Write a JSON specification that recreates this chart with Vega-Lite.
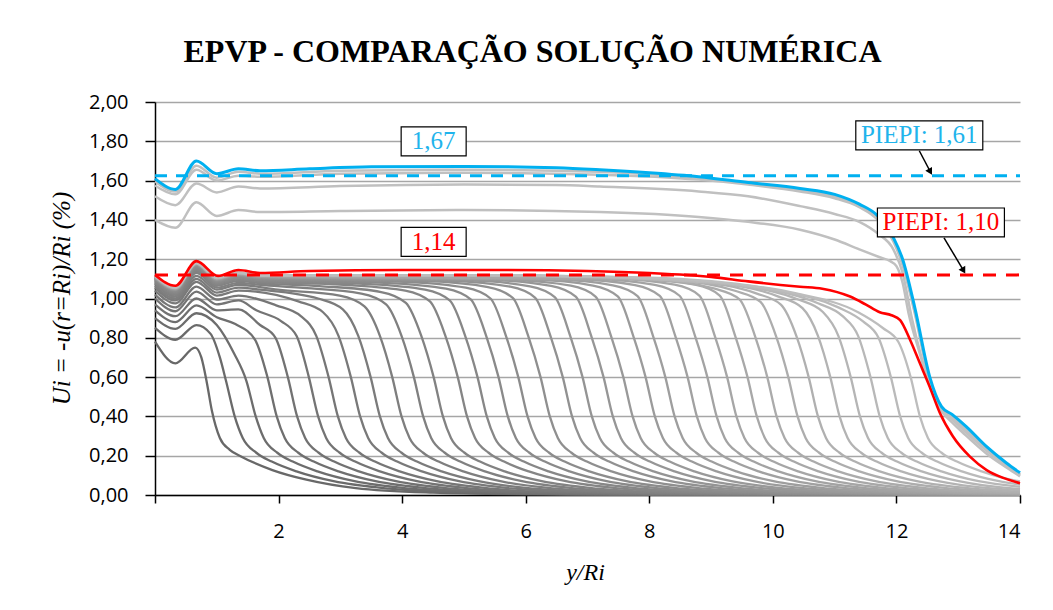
{
"$schema":"https://vega.github.io/schema/vega-lite/v6.json",
"width":865,"height":393,
"autosize":{"type":"none"},
"padding":{"left":155,"top":102,"right":33,"bottom":115},
"background":"white",
"title":{"text":"EPVP - COMPARAÇÃO SOLUÇÃO NUMÉRICA","font":"Liberation Serif","fontSize":32,"fontWeight":"bold","color":"#000","anchor":"middle","baseline":"alphabetic","offset":-2,"dx":-55},
"config":{"view":{"stroke":null}},
"datasets":{
"lower":[
{"k":1,"x":0,"y":0.78},{"k":1,"x":0.33,"y":0.67},{"k":1,"x":0.65,"y":0.75},{"k":1,"x":0.75,"y":0.7},{"k":1,"x":0.84,"y":0.57},{"k":1,"x":0.92,"y":0.43},{"k":1,"x":1.05,"y":0.29},{"k":1,"x":1.21,"y":0.23},{"k":1,"x":1.4,"y":0.195},{"k":1,"x":1.9,"y":0.127},{"k":1,"x":2.45,"y":0.078},{"k":1,"x":3.25,"y":0.035},{"k":1,"x":4.5,"y":0.012},{"k":1,"x":6,"y":0.004},{"k":1,"x":8,"y":0.001},
{"k":2,"x":0,"y":0.85},{"k":2,"x":0.33,"y":0.79},{"k":2,"x":0.67,"y":0.865},{"k":2,"x":0.9,"y":0.82},{"k":2,"x":1.05,"y":0.7},{"k":2,"x":1.15,"y":0.58},{"k":2,"x":1.29,"y":0.4},{"k":2,"x":1.42,"y":0.29},{"k":2,"x":1.64,"y":0.215},{"k":2,"x":1.89,"y":0.17},{"k":2,"x":2.29,"y":0.12},{"k":2,"x":2.89,"y":0.07},{"k":2,"x":3.79,"y":0.032},{"k":2,"x":4.79,"y":0.013},{"k":2,"x":6.29,"y":0.004},{"k":2,"x":8.3,"y":0.001},
{"k":3,"x":0,"y":0.9},{"k":3,"x":0.33,"y":0.845},{"k":3,"x":0.67,"y":0.925},{"k":3,"x":1.0,"y":0.865},{"k":3,"x":1.28,"y":0.72},{"k":3,"x":1.48,"y":0.58},{"k":3,"x":1.63,"y":0.4},{"k":3,"x":1.76,"y":0.29},{"k":3,"x":1.98,"y":0.215},{"k":3,"x":2.23,"y":0.17},{"k":3,"x":2.63,"y":0.12},{"k":3,"x":3.23,"y":0.07},{"k":3,"x":4.13,"y":0.032},{"k":3,"x":5.13,"y":0.013},{"k":3,"x":6.63,"y":0.004},{"k":3,"x":8.6,"y":0.001},
{"k":4,"x":0,"y":0.94},{"k":4,"x":0.33,"y":0.88},{"k":4,"x":0.67,"y":0.965},{"k":4,"x":1.0,"y":0.905},{"k":4,"x":1.3,"y":0.87},{"k":4,"x":1.62,"y":0.79},{"k":4,"x":1.82,"y":0.6},{"k":4,"x":1.97,"y":0.4},{"k":4,"x":2.1,"y":0.29},{"k":4,"x":2.32,"y":0.215},{"k":4,"x":2.57,"y":0.17},{"k":4,"x":2.97,"y":0.12},{"k":4,"x":3.57,"y":0.07},{"k":4,"x":4.47,"y":0.032},{"k":4,"x":5.47,"y":0.013},{"k":4,"x":6.97,"y":0.004},{"k":4,"x":9,"y":0.001},
{"k":5,"x":0,"y":0.97},{"k":5,"x":0.33,"y":0.91},{"k":5,"x":0.67,"y":1.0},{"k":5,"x":1.0,"y":0.94},{"k":5,"x":1.35,"y":0.945},{"k":5,"x":1.7,"y":0.865},{"k":5,"x":1.95,"y":0.8},{"k":5,"x":2.15,"y":0.6},{"k":5,"x":2.3,"y":0.4},{"k":5,"x":2.43,"y":0.29},{"k":5,"x":2.65,"y":0.215},{"k":5,"x":2.9,"y":0.17},{"k":5,"x":3.3,"y":0.12},{"k":5,"x":3.9,"y":0.07},{"k":5,"x":4.8,"y":0.032},{"k":5,"x":5.8,"y":0.013},{"k":5,"x":7.3,"y":0.004},{"k":5,"x":9.3,"y":0.001},
{"k":6,"x":0,"y":1.0},{"k":6,"x":0.33,"y":0.935},{"k":6,"x":0.67,"y":1.035},{"k":6,"x":1.0,"y":0.97},{"k":6,"x":1.35,"y":0.99},{"k":6,"x":1.64,"y":0.94},{"k":6,"x":2.04,"y":0.885},{"k":6,"x":2.29,"y":0.81},{"k":6,"x":2.49,"y":0.6},{"k":6,"x":2.64,"y":0.4},{"k":6,"x":2.77,"y":0.29},{"k":6,"x":2.99,"y":0.215},{"k":6,"x":3.24,"y":0.17},{"k":6,"x":3.64,"y":0.12},{"k":6,"x":4.24,"y":0.07},{"k":6,"x":5.14,"y":0.032},{"k":6,"x":6.14,"y":0.013},{"k":6,"x":7.64,"y":0.004},{"k":6,"x":9.64,"y":0.001},
{"k":7,"x":0,"y":1.02},{"k":7,"x":0.33,"y":0.955},{"k":7,"x":0.67,"y":1.06},{"k":7,"x":1.0,"y":0.995},{"k":7,"x":1.35,"y":1.015},{"k":7,"x":1.96,"y":0.965},{"k":7,"x":2.36,"y":0.91},{"k":7,"x":2.61,"y":0.81},{"k":7,"x":2.81,"y":0.6},{"k":7,"x":2.96,"y":0.4},{"k":7,"x":3.09,"y":0.29},{"k":7,"x":3.31,"y":0.215},{"k":7,"x":3.56,"y":0.17},{"k":7,"x":3.96,"y":0.12},{"k":7,"x":4.56,"y":0.07},{"k":7,"x":5.46,"y":0.032},{"k":7,"x":6.46,"y":0.013},{"k":7,"x":7.96,"y":0.004},{"k":7,"x":9.96,"y":0.001},
{"k":8,"x":0,"y":1.04},{"k":8,"x":0.33,"y":0.975},{"k":8,"x":0.67,"y":1.085},{"k":8,"x":1.0,"y":1.015},{"k":8,"x":1.35,"y":1.04},{"k":8,"x":2.32,"y":0.985},{"k":8,"x":2.72,"y":0.93},{"k":8,"x":2.97,"y":0.81},{"k":8,"x":3.17,"y":0.6},{"k":8,"x":3.32,"y":0.4},{"k":8,"x":3.45,"y":0.29},{"k":8,"x":3.67,"y":0.215},{"k":8,"x":3.92,"y":0.17},{"k":8,"x":4.32,"y":0.12},{"k":8,"x":4.92,"y":0.07},{"k":8,"x":5.82,"y":0.032},{"k":8,"x":6.82,"y":0.013},{"k":8,"x":8.32,"y":0.004},{"k":8,"x":10.3,"y":0.001},
{"k":9,"x":0,"y":1.055},{"k":9,"x":0.33,"y":0.99},{"k":9,"x":0.67,"y":1.1},{"k":9,"x":1.0,"y":1.03},{"k":9,"x":1.35,"y":1.055},{"k":9,"x":1.7,"y":1.045},{"k":9,"x":2.64,"y":1.0},{"k":9,"x":3.04,"y":0.945},{"k":9,"x":3.29,"y":0.81},{"k":9,"x":3.49,"y":0.6},{"k":9,"x":3.64,"y":0.4},{"k":9,"x":3.77,"y":0.29},{"k":9,"x":3.99,"y":0.215},{"k":9,"x":4.24,"y":0.17},{"k":9,"x":4.64,"y":0.12},{"k":9,"x":5.24,"y":0.07},{"k":9,"x":6.14,"y":0.032},{"k":9,"x":7.14,"y":0.013},{"k":9,"x":8.64,"y":0.004},{"k":9,"x":10.64,"y":0.001},
{"k":10,"x":0,"y":1.065},{"k":10,"x":0.33,"y":1.0},{"k":10,"x":0.67,"y":1.115},{"k":10,"x":1.0,"y":1.045},{"k":10,"x":1.35,"y":1.07},{"k":10,"x":1.99,"y":1.045},{"k":10,"x":2.99,"y":1.015},{"k":10,"x":3.39,"y":0.96},{"k":10,"x":3.64,"y":0.81},{"k":10,"x":3.84,"y":0.6},{"k":10,"x":3.99,"y":0.4},{"k":10,"x":4.12,"y":0.29},{"k":10,"x":4.34,"y":0.215},{"k":10,"x":4.59,"y":0.17},{"k":10,"x":4.99,"y":0.12},{"k":10,"x":5.59,"y":0.07},{"k":10,"x":6.49,"y":0.032},{"k":10,"x":7.49,"y":0.013},{"k":10,"x":8.99,"y":0.004},{"k":10,"x":10.99,"y":0.001},
{"k":11,"x":0,"y":1.075},{"k":11,"x":0.33,"y":1.01},{"k":11,"x":0.67,"y":1.13},{"k":11,"x":1.0,"y":1.055},{"k":11,"x":1.35,"y":1.08},{"k":11,"x":1.7,"y":1.07},{"k":11,"x":2.34,"y":1.055},{"k":11,"x":3.34,"y":1.025},{"k":11,"x":3.74,"y":0.97},{"k":11,"x":3.99,"y":0.81},{"k":11,"x":4.19,"y":0.6},{"k":11,"x":4.34,"y":0.4},{"k":11,"x":4.47,"y":0.29},{"k":11,"x":4.69,"y":0.215},{"k":11,"x":4.94,"y":0.17},{"k":11,"x":5.34,"y":0.12},{"k":11,"x":5.94,"y":0.07},{"k":11,"x":6.84,"y":0.032},{"k":11,"x":7.84,"y":0.013},{"k":11,"x":9.34,"y":0.004},{"k":11,"x":11.34,"y":0.001},
{"k":12,"x":0,"y":1.082},{"k":12,"x":0.33,"y":1.018},{"k":12,"x":0.67,"y":1.14},{"k":12,"x":1.0,"y":1.065},{"k":12,"x":1.35,"y":1.09},{"k":12,"x":1.7,"y":1.078},{"k":12,"x":2.66,"y":1.063},{"k":12,"x":3.66,"y":1.033},{"k":12,"x":4.06,"y":0.978},{"k":12,"x":4.31,"y":0.81},{"k":12,"x":4.51,"y":0.6},{"k":12,"x":4.66,"y":0.4},{"k":12,"x":4.79,"y":0.29},{"k":12,"x":5.01,"y":0.215},{"k":12,"x":5.26,"y":0.17},{"k":12,"x":5.66,"y":0.12},{"k":12,"x":6.26,"y":0.07},{"k":12,"x":7.16,"y":0.032},{"k":12,"x":8.16,"y":0.013},{"k":12,"x":9.66,"y":0.004},{"k":12,"x":11.66,"y":0.001},
{"k":13,"x":0,"y":1.088},{"k":13,"x":0.33,"y":1.025},{"k":13,"x":0.67,"y":1.148},{"k":13,"x":1.0,"y":1.072},{"k":13,"x":1.35,"y":1.097},{"k":13,"x":1.7,"y":1.085},{"k":13,"x":3.05,"y":1.07},{"k":13,"x":4.05,"y":1.04},{"k":13,"x":4.45,"y":0.985},{"k":13,"x":4.7,"y":0.81},{"k":13,"x":4.9,"y":0.6},{"k":13,"x":5.05,"y":0.4},{"k":13,"x":5.18,"y":0.29},{"k":13,"x":5.4,"y":0.215},{"k":13,"x":5.65,"y":0.17},{"k":13,"x":6.05,"y":0.12},{"k":13,"x":6.65,"y":0.07},{"k":13,"x":7.55,"y":0.032},{"k":13,"x":8.55,"y":0.013},{"k":13,"x":10.05,"y":0.004},{"k":13,"x":12.05,"y":0.001},
{"k":14,"x":0,"y":1.093},{"k":14,"x":0.33,"y":1.03},{"k":14,"x":0.67,"y":1.155},{"k":14,"x":1.0,"y":1.077},{"k":14,"x":1.35,"y":1.102},{"k":14,"x":1.7,"y":1.09},{"k":14,"x":3.37,"y":1.075},{"k":14,"x":4.37,"y":1.045},{"k":14,"x":4.77,"y":0.99},{"k":14,"x":5.02,"y":0.81},{"k":14,"x":5.22,"y":0.6},{"k":14,"x":5.37,"y":0.4},{"k":14,"x":5.5,"y":0.29},{"k":14,"x":5.72,"y":0.215},{"k":14,"x":5.97,"y":0.17},{"k":14,"x":6.37,"y":0.12},{"k":14,"x":6.97,"y":0.07},{"k":14,"x":7.87,"y":0.032},{"k":14,"x":8.87,"y":0.013},{"k":14,"x":10.37,"y":0.004},{"k":14,"x":12.37,"y":0.001},
{"k":15,"x":0,"y":1.097},{"k":15,"x":0.33,"y":1.035},{"k":15,"x":0.67,"y":1.16},{"k":15,"x":1.0,"y":1.082},{"k":15,"x":1.35,"y":1.107},{"k":15,"x":1.7,"y":1.095},{"k":15,"x":3.71,"y":1.08},{"k":15,"x":4.71,"y":1.05},{"k":15,"x":5.11,"y":0.995},{"k":15,"x":5.36,"y":0.81},{"k":15,"x":5.56,"y":0.6},{"k":15,"x":5.71,"y":0.4},{"k":15,"x":5.84,"y":0.29},{"k":15,"x":6.06,"y":0.215},{"k":15,"x":6.31,"y":0.17},{"k":15,"x":6.71,"y":0.12},{"k":15,"x":7.31,"y":0.07},{"k":15,"x":8.21,"y":0.032},{"k":15,"x":9.21,"y":0.013},{"k":15,"x":10.71,"y":0.004},{"k":15,"x":12.71,"y":0.001},
{"k":16,"x":0,"y":1.1},{"k":16,"x":0.33,"y":1.04},{"k":16,"x":0.67,"y":1.165},{"k":16,"x":1.0,"y":1.087},{"k":16,"x":1.35,"y":1.112},{"k":16,"x":1.7,"y":1.1},{"k":16,"x":4.03,"y":1.085},{"k":16,"x":5.03,"y":1.055},{"k":16,"x":5.43,"y":1.0},{"k":16,"x":5.68,"y":0.81},{"k":16,"x":5.88,"y":0.6},{"k":16,"x":6.03,"y":0.4},{"k":16,"x":6.16,"y":0.29},{"k":16,"x":6.38,"y":0.215},{"k":16,"x":6.63,"y":0.17},{"k":16,"x":7.03,"y":0.12},{"k":16,"x":7.63,"y":0.07},{"k":16,"x":8.53,"y":0.032},{"k":16,"x":9.53,"y":0.013},{"k":16,"x":11.03,"y":0.004},{"k":16,"x":13.03,"y":0.001},
{"k":17,"x":0,"y":1.102},{"k":17,"x":0.33,"y":1.042},{"k":17,"x":0.67,"y":1.168},{"k":17,"x":1.0,"y":1.09},{"k":17,"x":1.35,"y":1.115},{"k":17,"x":1.7,"y":1.103},{"k":17,"x":4.39,"y":1.088},{"k":17,"x":5.39,"y":1.058},{"k":17,"x":5.79,"y":1.003},{"k":17,"x":6.04,"y":0.81},{"k":17,"x":6.24,"y":0.6},{"k":17,"x":6.39,"y":0.4},{"k":17,"x":6.52,"y":0.29},{"k":17,"x":6.74,"y":0.215},{"k":17,"x":6.99,"y":0.17},{"k":17,"x":7.39,"y":0.12},{"k":17,"x":7.99,"y":0.07},{"k":17,"x":8.89,"y":0.032},{"k":17,"x":9.89,"y":0.013},{"k":17,"x":11.39,"y":0.004},{"k":17,"x":13.39,"y":0.001},
{"k":18,"x":0,"y":1.104},{"k":18,"x":0.33,"y":1.044},{"k":18,"x":0.67,"y":1.17},{"k":18,"x":1.0,"y":1.092},{"k":18,"x":1.35,"y":1.117},{"k":18,"x":1.7,"y":1.105},{"k":18,"x":4.75,"y":1.09},{"k":18,"x":5.75,"y":1.06},{"k":18,"x":6.15,"y":1.005},{"k":18,"x":6.4,"y":0.81},{"k":18,"x":6.6,"y":0.6},{"k":18,"x":6.75,"y":0.4},{"k":18,"x":6.88,"y":0.29},{"k":18,"x":7.1,"y":0.215},{"k":18,"x":7.35,"y":0.17},{"k":18,"x":7.75,"y":0.12},{"k":18,"x":8.35,"y":0.07},{"k":18,"x":9.25,"y":0.032},{"k":18,"x":10.25,"y":0.013},{"k":18,"x":11.75,"y":0.004},{"k":18,"x":13.75,"y":0.001},
{"k":19,"x":0,"y":1.105},{"k":19,"x":0.33,"y":1.045},{"k":19,"x":0.67,"y":1.172},{"k":19,"x":1.0,"y":1.094},{"k":19,"x":1.35,"y":1.119},{"k":19,"x":1.7,"y":1.107},{"k":19,"x":5.07,"y":1.092},{"k":19,"x":6.07,"y":1.062},{"k":19,"x":6.47,"y":1.007},{"k":19,"x":6.72,"y":0.81},{"k":19,"x":6.92,"y":0.6},{"k":19,"x":7.07,"y":0.4},{"k":19,"x":7.2,"y":0.29},{"k":19,"x":7.42,"y":0.215},{"k":19,"x":7.67,"y":0.17},{"k":19,"x":8.07,"y":0.12},{"k":19,"x":8.67,"y":0.07},{"k":19,"x":9.57,"y":0.032},{"k":19,"x":10.57,"y":0.013},{"k":19,"x":12.07,"y":0.004},{"k":19,"x":14,"y":0.001},
{"k":20,"x":0,"y":1.106},{"k":20,"x":0.33,"y":1.046},{"k":20,"x":0.67,"y":1.173},{"k":20,"x":1.0,"y":1.096},{"k":20,"x":1.35,"y":1.121},{"k":20,"x":1.7,"y":1.109},{"k":20,"x":5.41,"y":1.094},{"k":20,"x":6.41,"y":1.064},{"k":20,"x":6.81,"y":1.009},{"k":20,"x":7.06,"y":0.81},{"k":20,"x":7.26,"y":0.6},{"k":20,"x":7.41,"y":0.4},{"k":20,"x":7.54,"y":0.29},{"k":20,"x":7.76,"y":0.215},{"k":20,"x":8.01,"y":0.17},{"k":20,"x":8.41,"y":0.12},{"k":20,"x":9.01,"y":0.07},{"k":20,"x":9.91,"y":0.032},{"k":20,"x":10.91,"y":0.013},{"k":20,"x":12.41,"y":0.004},{"k":20,"x":14,"y":0.0015},
{"k":21,"x":0,"y":1.107},{"k":21,"x":0.33,"y":1.047},{"k":21,"x":0.67,"y":1.174},{"k":21,"x":1.0,"y":1.097},{"k":21,"x":1.35,"y":1.122},{"k":21,"x":1.7,"y":1.11},{"k":21,"x":5.73,"y":1.095},{"k":21,"x":6.73,"y":1.065},{"k":21,"x":7.13,"y":1.01},{"k":21,"x":7.38,"y":0.81},{"k":21,"x":7.58,"y":0.6},{"k":21,"x":7.73,"y":0.4},{"k":21,"x":7.86,"y":0.29},{"k":21,"x":8.08,"y":0.215},{"k":21,"x":8.33,"y":0.17},{"k":21,"x":8.73,"y":0.12},{"k":21,"x":9.33,"y":0.07},{"k":21,"x":10.23,"y":0.032},{"k":21,"x":11.23,"y":0.013},{"k":21,"x":12.73,"y":0.004},{"k":21,"x":14,"y":0.002},
{"k":22,"x":0,"y":1.108},{"k":22,"x":0.33,"y":1.048},{"k":22,"x":0.67,"y":1.175},{"k":22,"x":1.0,"y":1.098},{"k":22,"x":1.35,"y":1.123},{"k":22,"x":1.7,"y":1.111},{"k":22,"x":6.09,"y":1.096},{"k":22,"x":7.09,"y":1.066},{"k":22,"x":7.49,"y":1.011},{"k":22,"x":7.74,"y":0.81},{"k":22,"x":7.94,"y":0.6},{"k":22,"x":8.09,"y":0.4},{"k":22,"x":8.22,"y":0.29},{"k":22,"x":8.44,"y":0.215},{"k":22,"x":8.69,"y":0.17},{"k":22,"x":9.09,"y":0.12},{"k":22,"x":9.69,"y":0.07},{"k":22,"x":10.59,"y":0.032},{"k":22,"x":11.59,"y":0.013},{"k":22,"x":13.09,"y":0.004},{"k":22,"x":14,"y":0.0025},
{"k":23,"x":0,"y":1.109},{"k":23,"x":0.33,"y":1.049},{"k":23,"x":0.67,"y":1.176},{"k":23,"x":1.0,"y":1.099},{"k":23,"x":1.35,"y":1.124},{"k":23,"x":1.7,"y":1.112},{"k":23,"x":6.41,"y":1.097},{"k":23,"x":7.41,"y":1.067},{"k":23,"x":7.81,"y":1.012},{"k":23,"x":8.06,"y":0.81},{"k":23,"x":8.26,"y":0.6},{"k":23,"x":8.41,"y":0.4},{"k":23,"x":8.54,"y":0.29},{"k":23,"x":8.76,"y":0.215},{"k":23,"x":9.01,"y":0.17},{"k":23,"x":9.41,"y":0.12},{"k":23,"x":10.01,"y":0.07},{"k":23,"x":10.91,"y":0.032},{"k":23,"x":11.91,"y":0.013},{"k":23,"x":13.41,"y":0.004},{"k":23,"x":14,"y":0.003},
{"k":24,"x":0,"y":1.11},{"k":24,"x":0.33,"y":1.05},{"k":24,"x":0.67,"y":1.177},{"k":24,"x":1.0,"y":1.1},{"k":24,"x":1.35,"y":1.125},{"k":24,"x":1.7,"y":1.113},{"k":24,"x":6.77,"y":1.098},{"k":24,"x":7.77,"y":1.068},{"k":24,"x":8.17,"y":1.013},{"k":24,"x":8.42,"y":0.81},{"k":24,"x":8.62,"y":0.6},{"k":24,"x":8.77,"y":0.4},{"k":24,"x":8.9,"y":0.29},{"k":24,"x":9.12,"y":0.215},{"k":24,"x":9.37,"y":0.17},{"k":24,"x":9.77,"y":0.12},{"k":24,"x":10.37,"y":0.07},{"k":24,"x":11.27,"y":0.032},{"k":24,"x":12.27,"y":0.013},{"k":24,"x":13.77,"y":0.004},{"k":24,"x":14,"y":0.0035},
{"k":25,"x":0,"y":1.111},{"k":25,"x":0.33,"y":1.051},{"k":25,"x":0.67,"y":1.177},{"k":25,"x":1.0,"y":1.101},{"k":25,"x":1.35,"y":1.126},{"k":25,"x":1.7,"y":1.114},{"k":25,"x":7.09,"y":1.099},{"k":25,"x":8.09,"y":1.069},{"k":25,"x":8.49,"y":1.014},{"k":25,"x":8.74,"y":0.81},{"k":25,"x":8.94,"y":0.6},{"k":25,"x":9.09,"y":0.4},{"k":25,"x":9.22,"y":0.29},{"k":25,"x":9.44,"y":0.215},{"k":25,"x":9.69,"y":0.17},{"k":25,"x":10.09,"y":0.12},{"k":25,"x":10.69,"y":0.07},{"k":25,"x":11.59,"y":0.032},{"k":25,"x":12.59,"y":0.013},{"k":25,"x":14,"y":0.0045},
{"k":26,"x":0,"y":1.112},{"k":26,"x":0.33,"y":1.052},{"k":26,"x":0.67,"y":1.178},{"k":26,"x":1.0,"y":1.102},{"k":26,"x":1.35,"y":1.127},{"k":26,"x":1.7,"y":1.115},{"k":26,"x":7.41,"y":1.1},{"k":26,"x":8.41,"y":1.07},{"k":26,"x":8.81,"y":1.015},{"k":26,"x":9.06,"y":0.81},{"k":26,"x":9.26,"y":0.6},{"k":26,"x":9.41,"y":0.4},{"k":26,"x":9.54,"y":0.29},{"k":26,"x":9.76,"y":0.215},{"k":26,"x":10.01,"y":0.17},{"k":26,"x":10.41,"y":0.12},{"k":26,"x":11.01,"y":0.07},{"k":26,"x":11.91,"y":0.032},{"k":26,"x":12.91,"y":0.013},{"k":26,"x":14,"y":0.0065},
{"k":27,"x":0,"y":1.112},{"k":27,"x":0.33,"y":1.053},{"k":27,"x":0.67,"y":1.178},{"k":27,"x":1.0,"y":1.103},{"k":27,"x":1.35,"y":1.128},{"k":27,"x":1.7,"y":1.115},{"k":27,"x":5.0,"y":1.115},{"k":27,"x":7.74,"y":1.1},{"k":27,"x":8.74,"y":1.07},{"k":27,"x":9.14,"y":1.015},{"k":27,"x":9.39,"y":0.81},{"k":27,"x":9.59,"y":0.6},{"k":27,"x":9.74,"y":0.4},{"k":27,"x":9.87,"y":0.29},{"k":27,"x":10.09,"y":0.215},{"k":27,"x":10.34,"y":0.17},{"k":27,"x":10.74,"y":0.12},{"k":27,"x":11.34,"y":0.07},{"k":27,"x":12.24,"y":0.032},{"k":27,"x":13.24,"y":0.013},{"k":27,"x":14,"y":0.008},
{"k":28,"x":0,"y":1.113},{"k":28,"x":0.33,"y":1.053},{"k":28,"x":0.67,"y":1.179},{"k":28,"x":1.0,"y":1.103},{"k":28,"x":1.35,"y":1.128},{"k":28,"x":1.7,"y":1.116},{"k":28,"x":5.0,"y":1.115},{"k":28,"x":8.06,"y":1.095},{"k":28,"x":9.06,"y":1.05},{"k":28,"x":9.46,"y":0.996},{"k":28,"x":9.71,"y":0.81},{"k":28,"x":9.91,"y":0.6},{"k":28,"x":10.06,"y":0.4},{"k":28,"x":10.19,"y":0.29},{"k":28,"x":10.41,"y":0.215},{"k":28,"x":10.66,"y":0.17},{"k":28,"x":11.06,"y":0.12},{"k":28,"x":11.66,"y":0.07},{"k":28,"x":12.56,"y":0.032},{"k":28,"x":13.56,"y":0.013},{"k":28,"x":14,"y":0.01},
{"k":29,"x":0,"y":1.113},{"k":29,"x":0.33,"y":1.054},{"k":29,"x":0.67,"y":1.179},{"k":29,"x":1.0,"y":1.104},{"k":29,"x":1.35,"y":1.129},{"k":29,"x":1.7,"y":1.116},{"k":29,"x":5.0,"y":1.116},{"k":29,"x":8.4,"y":1.091},{"k":29,"x":9.4,"y":1.038},{"k":29,"x":9.8,"y":0.983},{"k":29,"x":10.05,"y":0.81},{"k":29,"x":10.25,"y":0.6},{"k":29,"x":10.4,"y":0.4},{"k":29,"x":10.53,"y":0.29},{"k":29,"x":10.75,"y":0.215},{"k":29,"x":11.0,"y":0.17},{"k":29,"x":11.4,"y":0.12},{"k":29,"x":12.0,"y":0.07},{"k":29,"x":12.9,"y":0.032},{"k":29,"x":13.9,"y":0.013},{"k":29,"x":14,"y":0.0125},
{"k":30,"x":0,"y":1.114},{"k":30,"x":0.33,"y":1.054},{"k":30,"x":0.67,"y":1.18},{"k":30,"x":1.0,"y":1.104},{"k":30,"x":1.35,"y":1.129},{"k":30,"x":1.7,"y":1.117},{"k":30,"x":5.0,"y":1.117},{"k":30,"x":7.0,"y":1.11},{"k":30,"x":8.73,"y":1.085},{"k":30,"x":9.73,"y":1.026},{"k":30,"x":10.13,"y":0.969},{"k":30,"x":10.38,"y":0.81},{"k":30,"x":10.58,"y":0.6},{"k":30,"x":10.73,"y":0.4},{"k":30,"x":10.86,"y":0.29},{"k":30,"x":11.08,"y":0.215},{"k":30,"x":11.33,"y":0.17},{"k":30,"x":11.73,"y":0.12},{"k":30,"x":12.33,"y":0.07},{"k":30,"x":13.23,"y":0.032},{"k":30,"x":14,"y":0.017},
{"k":31,"x":0,"y":1.114},{"k":31,"x":0.33,"y":1.055},{"k":31,"x":0.67,"y":1.18},{"k":31,"x":1.0,"y":1.105},{"k":31,"x":1.35,"y":1.13},{"k":31,"x":1.7,"y":1.117},{"k":31,"x":5.0,"y":1.117},{"k":31,"x":7.0,"y":1.11},{"k":31,"x":9.08,"y":1.078},{"k":31,"x":10.08,"y":1.011},{"k":31,"x":10.48,"y":0.951},{"k":31,"x":10.73,"y":0.81},{"k":31,"x":10.93,"y":0.6},{"k":31,"x":11.08,"y":0.4},{"k":31,"x":11.21,"y":0.29},{"k":31,"x":11.43,"y":0.215},{"k":31,"x":11.68,"y":0.17},{"k":31,"x":12.08,"y":0.12},{"k":31,"x":12.68,"y":0.07},{"k":31,"x":13.58,"y":0.032},{"k":31,"x":14,"y":0.024},
{"k":32,"x":0,"y":1.115},{"k":32,"x":0.33,"y":1.055},{"k":32,"x":0.67,"y":1.18},{"k":32,"x":1.0,"y":1.105},{"k":32,"x":1.35,"y":1.13},{"k":32,"x":1.7,"y":1.118},{"k":32,"x":5.0,"y":1.118},{"k":32,"x":7.0,"y":1.111},{"k":32,"x":8.4,"y":1.098},{"k":32,"x":9.41,"y":1.068},{"k":32,"x":10.41,"y":0.995},{"k":32,"x":10.81,"y":0.931},{"k":32,"x":11.06,"y":0.81},{"k":32,"x":11.26,"y":0.6},{"k":32,"x":11.41,"y":0.4},{"k":32,"x":11.54,"y":0.29},{"k":32,"x":11.76,"y":0.215},{"k":32,"x":12.01,"y":0.17},{"k":32,"x":12.41,"y":0.12},{"k":32,"x":13.01,"y":0.07},{"k":32,"x":13.91,"y":0.032},{"k":32,"x":14,"y":0.03},
{"k":33,"x":0,"y":1.115},{"k":33,"x":0.33,"y":1.056},{"k":33,"x":0.67,"y":1.18},{"k":33,"x":1.0,"y":1.106},{"k":33,"x":1.35,"y":1.131},{"k":33,"x":1.7,"y":1.118},{"k":33,"x":5.0,"y":1.118},{"k":33,"x":7.0,"y":1.112},{"k":33,"x":8.5,"y":1.09},{"k":33,"x":9.73,"y":1.056},{"k":33,"x":10.73,"y":0.976},{"k":33,"x":11.13,"y":0.91},{"k":33,"x":11.38,"y":0.81},{"k":33,"x":11.58,"y":0.6},{"k":33,"x":11.73,"y":0.4},{"k":33,"x":11.86,"y":0.29},{"k":33,"x":12.08,"y":0.215},{"k":33,"x":12.33,"y":0.17},{"k":33,"x":12.73,"y":0.12},{"k":33,"x":13.33,"y":0.07},{"k":33,"x":14,"y":0.042},
{"k":34,"x":0,"y":1.116},{"k":34,"x":0.33,"y":1.056},{"k":34,"x":0.67,"y":1.181},{"k":34,"x":1.0,"y":1.106},{"k":34,"x":1.35,"y":1.131},{"k":34,"x":1.7,"y":1.118},{"k":34,"x":5.0,"y":1.118},{"k":34,"x":7.0,"y":1.112},{"k":34,"x":8.5,"y":1.095},{"k":34,"x":10.06,"y":1.042},{"k":34,"x":11.06,"y":0.955},{"k":34,"x":11.46,"y":0.883},{"k":34,"x":11.71,"y":0.8},{"k":34,"x":11.91,"y":0.6},{"k":34,"x":12.06,"y":0.4},{"k":34,"x":12.19,"y":0.29},{"k":34,"x":12.41,"y":0.215},{"k":34,"x":12.66,"y":0.17},{"k":34,"x":13.06,"y":0.12},{"k":34,"x":13.66,"y":0.07},{"k":34,"x":14,"y":0.053},
{"k":35,"x":0,"y":1.116},{"k":35,"x":0.33,"y":1.057},{"k":35,"x":0.67,"y":1.181},{"k":35,"x":1.0,"y":1.107},{"k":35,"x":1.35,"y":1.132},{"k":35,"x":1.7,"y":1.119},{"k":35,"x":5.0,"y":1.119},{"k":35,"x":7.0,"y":1.113},{"k":35,"x":8.5,"y":1.1},{"k":35,"x":9.4,"y":1.075},{"k":35,"x":10.38,"y":1.026},{"k":35,"x":11.38,"y":0.93},{"k":35,"x":11.78,"y":0.85},{"k":35,"x":12.03,"y":0.78},{"k":35,"x":12.23,"y":0.6},{"k":35,"x":12.38,"y":0.4},{"k":35,"x":12.51,"y":0.29},{"k":35,"x":12.73,"y":0.215},{"k":35,"x":12.98,"y":0.17},{"k":35,"x":13.38,"y":0.12},{"k":35,"x":13.98,"y":0.07},{"k":35,"x":14,"y":0.069}
],
"upper":[
{"k":1,"x":0,"y":1.4},{"k":1,"x":0.33,"y":1.36},{"k":1,"x":0.67,"y":1.49},{"k":1,"x":1.0,"y":1.42},{"k":1,"x":1.35,"y":1.45},{"k":1,"x":1.7,"y":1.44},{"k":1,"x":3,"y":1.445},{"k":1,"x":5,"y":1.45},{"k":1,"x":7.2,"y":1.44},{"k":1,"x":8.8,"y":1.415},{"k":1,"x":9.6,"y":1.39},{"k":1,"x":10.44,"y":1.35},{"k":1,"x":11.0,"y":1.3},{"k":1,"x":11.4,"y":1.25},{"k":1,"x":11.73,"y":1.21},{"k":1,"x":11.9,"y":1.19},{"k":1,"x":12.0,"y":1.165},{"k":1,"x":12.1,"y":1.08},{"k":1,"x":12.2,"y":0.92},{"k":1,"x":12.35,"y":0.75},{"k":1,"x":12.55,"y":0.55},{"k":1,"x":12.75,"y":0.42},{"k":1,"x":12.9,"y":0.37},{"k":1,"x":13.1,"y":0.31},{"k":1,"x":13.46,"y":0.21},{"k":1,"x":13.78,"y":0.14},{"k":1,"x":14,"y":0.095},
{"k":2,"x":0,"y":1.52},{"k":2,"x":0.33,"y":1.475},{"k":2,"x":0.67,"y":1.585},{"k":2,"x":1.0,"y":1.54},{"k":2,"x":1.35,"y":1.57},{"k":2,"x":1.7,"y":1.56},{"k":2,"x":3,"y":1.572},{"k":2,"x":5,"y":1.58},{"k":2,"x":6.5,"y":1.578},{"k":2,"x":7.2,"y":1.57},{"k":2,"x":8.8,"y":1.545},{"k":2,"x":9.6,"y":1.52},{"k":2,"x":10.44,"y":1.47},{"k":2,"x":11.0,"y":1.43},{"k":2,"x":11.4,"y":1.39},{"k":2,"x":11.7,"y":1.33},{"k":2,"x":11.95,"y":1.25},{"k":2,"x":12.1,"y":1.13},{"k":2,"x":12.25,"y":0.9},{"k":2,"x":12.5,"y":0.6},{"k":2,"x":12.7,"y":0.44},{"k":2,"x":12.9,"y":0.385},{"k":2,"x":13.1,"y":0.325},{"k":2,"x":13.46,"y":0.225},{"k":2,"x":13.78,"y":0.15},{"k":2,"x":14,"y":0.1},
{"k":3,"x":0,"y":1.575},{"k":3,"x":0.33,"y":1.53},{"k":3,"x":0.67,"y":1.655},{"k":3,"x":1.0,"y":1.6},{"k":3,"x":1.35,"y":1.625},{"k":3,"x":1.7,"y":1.62},{"k":3,"x":3,"y":1.635},{"k":3,"x":5,"y":1.64},{"k":3,"x":7.2,"y":1.63},{"k":3,"x":8.8,"y":1.605},{"k":3,"x":9.6,"y":1.58},{"k":3,"x":10.44,"y":1.545},{"k":3,"x":11.0,"y":1.51},{"k":3,"x":11.4,"y":1.465},{"k":3,"x":11.7,"y":1.4},{"k":3,"x":11.95,"y":1.29},{"k":3,"x":12.1,"y":1.17},{"k":3,"x":12.3,"y":0.92},{"k":3,"x":12.52,"y":0.6},{"k":3,"x":12.72,"y":0.44},{"k":3,"x":12.9,"y":0.395},{"k":3,"x":13.1,"y":0.335},{"k":3,"x":13.46,"y":0.232},{"k":3,"x":13.78,"y":0.155},{"k":3,"x":14,"y":0.103},
{"k":4,"x":0,"y":1.595},{"k":4,"x":0.33,"y":1.545},{"k":4,"x":0.67,"y":1.675},{"k":4,"x":1.0,"y":1.615},{"k":4,"x":1.35,"y":1.645},{"k":4,"x":1.7,"y":1.635},{"k":4,"x":3,"y":1.65},{"k":4,"x":5,"y":1.655},{"k":4,"x":7.2,"y":1.645},{"k":4,"x":8.8,"y":1.612},{"k":4,"x":9.6,"y":1.584},{"k":4,"x":10.44,"y":1.55},{"k":4,"x":11.0,"y":1.52},{"k":4,"x":11.4,"y":1.47},{"k":4,"x":11.7,"y":1.41},{"k":4,"x":11.95,"y":1.3},{"k":4,"x":12.1,"y":1.18},{"k":4,"x":12.3,"y":0.93},{"k":4,"x":12.53,"y":0.6},{"k":4,"x":12.72,"y":0.445},{"k":4,"x":12.9,"y":0.4},{"k":4,"x":13.1,"y":0.34},{"k":4,"x":13.46,"y":0.238},{"k":4,"x":13.78,"y":0.158},{"k":4,"x":14,"y":0.107}
],
"red":[
{"x":0,"y":1.12},{"x":0.33,"y":1.065},{"x":0.67,"y":1.19},{"x":1.02,"y":1.115},{"x":1.35,"y":1.145},{"x":1.7,"y":1.13},{"x":2.5,"y":1.14},{"x":4,"y":1.145},{"x":5.5,"y":1.145},{"x":7,"y":1.14},{"x":8,"y":1.13},{"x":9,"y":1.11},{"x":9.6,"y":1.087},{"x":10.44,"y":1.06},{"x":10.8,"y":1.05},{"x":11.25,"y":1.01},{"x":11.5,"y":0.97},{"x":11.73,"y":0.93},{"x":11.92,"y":0.915},{"x":12.06,"y":0.89},{"x":12.22,"y":0.79},{"x":12.38,"y":0.67},{"x":12.54,"y":0.55},{"x":12.7,"y":0.42},{"x":12.91,"y":0.3},{"x":13.19,"y":0.195},{"x":13.46,"y":0.127},{"x":13.73,"y":0.087},{"x":14,"y":0.06}
],
"blue":[
{"x":0,"y":1.61},{"x":0.33,"y":1.555},{"x":0.67,"y":1.7},{"x":1.0,"y":1.635},{"x":1.35,"y":1.66},{"x":1.7,"y":1.65},{"x":2.5,"y":1.66},{"x":3.5,"y":1.67},{"x":5,"y":1.672},{"x":6.5,"y":1.665},{"x":7.2,"y":1.655},{"x":8,"y":1.64},{"x":8.8,"y":1.62},{"x":9.6,"y":1.59},{"x":10.44,"y":1.56},{"x":11.0,"y":1.53},{"x":11.4,"y":1.48},{"x":11.7,"y":1.42},{"x":11.95,"y":1.31},{"x":12.1,"y":1.2},{"x":12.3,"y":0.95},{"x":12.54,"y":0.6},{"x":12.73,"y":0.45},{"x":12.9,"y":0.41},{"x":13.13,"y":0.348},{"x":13.46,"y":0.246},{"x":13.78,"y":0.163},{"x":14,"y":0.113}
],
"dashB":[{"x":0,"x2":14,"y":1.625}],
"dashR":[{"x":0,"x2":14,"y":1.12}],
"boxS":[{"x":4.51,"y":1.8},{"x":4.51,"y":1.288}],
"boxL":[{"x":12.37,"y":1.83},{"x":12.72,"y":1.387}],
"lblB":[{"x":4.51,"y":1.8,"t":"1,67"},{"x":12.37,"y":1.83,"t":"PIEPI: 1,61"}],
"lblR":[{"x":4.51,"y":1.288,"t":"1,14"},{"x":12.72,"y":1.387,"t":"PIEPI: 1,10"}],
"arr":[{"x":12.37,"y":1.752,"x2":12.549,"y2":1.645},{"x":12.77,"y":1.309,"x2":13.087,"y2":1.142}],
"head":[{"x":12.549,"y":1.645},{"x":13.087,"y":1.142}]
},
"encoding":{
"x":{"field":"x","type":"quantitative","scale":{"domain":[0,14],"nice":false,"zero":false},
"axis":{"values":[0,2,4,6,8,10,12,14],"labelExpr":"datum.value == 0 ? '' : datum.label","grid":false,"domainColor":"#000","domainWidth":1.5,"tickColor":"#000","tickWidth":1.5,"tickSize":8,"labelPadding":18,"labelFont":"Open Sans","labelFontSize":20,"labelColor":"#000","title":"y/Ri","titleFont":"Liberation Serif","titleFontStyle":"italic","titleFontWeight":"normal","titleFontSize":24,"titleColor":"#000","titleX":430,"titleY":84,"titleAlign":"center","titleBaseline":"alphabetic"}},
"y":{"field":"y","type":"quantitative","scale":{"domain":[0,2],"nice":false},
"axis":{"values":[0,0.2,0.4,0.6,0.8,1.0,1.2,1.4,1.6,1.8,2.0],"labelExpr":"replace(format(datum.value,'.2f'),'.',',')","grid":true,"gridColor":"#a6a6a6","gridWidth":1.5,"domainColor":"#000","domainWidth":1.5,"tickColor":"#000","tickWidth":1.5,"tickSize":10,"labelPadding":17,"labelFont":"Open Sans","labelFontSize":20,"labelColor":"#000","title":"Ui = -u(r=Ri)/Ri (%)","titleFont":"Liberation Serif","titleFontStyle":"italic","titleFontWeight":"normal","titleFontSize":25,"titleColor":"#000","titleX":-86,"titleY":196,"titleAngle":270,"titleAlign":"center","titleBaseline":"alphabetic"}}
},
"layer":[
{"data":{"name":"lower"},"mark":{"type":"line","interpolate":"monotone","strokeWidth":2.3},
"encoding":{"detail":{"field":"k","type":"nominal"},"color":{"field":"k","type":"quantitative","scale":{"domain":[1,35],"range":["#686868","#bdbdbd"]},"legend":null}}},
{"data":{"name":"upper"},"mark":{"type":"line","interpolate":"monotone","strokeWidth":2.5,"color":"#c0c0c0"},
"encoding":{"detail":{"field":"k","type":"nominal"}}},
{"data":{"name":"dashB"},"mark":{"type":"rule","color":"#00b0f0","strokeWidth":3,"strokeDash":[12,9]},"encoding":{"x2":{"field":"x2"}}},
{"data":{"name":"dashR"},"mark":{"type":"rule","color":"#ff0000","strokeWidth":3,"strokeDash":[13,10]},"encoding":{"x2":{"field":"x2"}}},
{"data":{"name":"red"},"mark":{"type":"line","interpolate":"monotone","strokeWidth":2.6,"color":"#ff0000"},"encoding":{}},
{"data":{"name":"blue"},"mark":{"type":"line","interpolate":"monotone","strokeWidth":3,"color":"#00b0f0"},"encoding":{}},
{"data":{"name":"arr"},"mark":{"type":"rule","color":"#000","strokeWidth":1.5},"encoding":{"x2":{"field":"x2"},"y2":{"field":"y2"}}},
{"data":{"name":"head"},"mark":{"type":"point","shape":"triangle-down","filled":true,"color":"#000","size":60,"angle":-30,"opacity":1},"encoding":{}},
{"data":{"name":"boxS"},"mark":{"type":"point","shape":"M-1,-0.446H1V0.446H-1Z","size":4225,"filled":true,"fill":"#ffffff","stroke":"#000","strokeWidth":1.2,"opacity":1,"fillOpacity":1},"encoding":{}},
{"data":{"name":"boxL"},"mark":{"type":"point","shape":"M-1,-0.228H1V0.228H-1Z","size":16129,"filled":true,"fill":"#ffffff","stroke":"#000","strokeWidth":1.2,"opacity":1,"fillOpacity":1},"encoding":{}},
{"data":{"name":"lblB"},"mark":{"type":"text","font":"Liberation Serif","fontSize":25,"color":"#1fb4ec","baseline":"middle","align":"center"},"encoding":{"text":{"field":"t"}}},
{"data":{"name":"lblR"},"mark":{"type":"text","font":"Liberation Serif","fontSize":25,"color":"#ff0000","baseline":"middle","align":"center"},"encoding":{"text":{"field":"t"}}}
]
}
